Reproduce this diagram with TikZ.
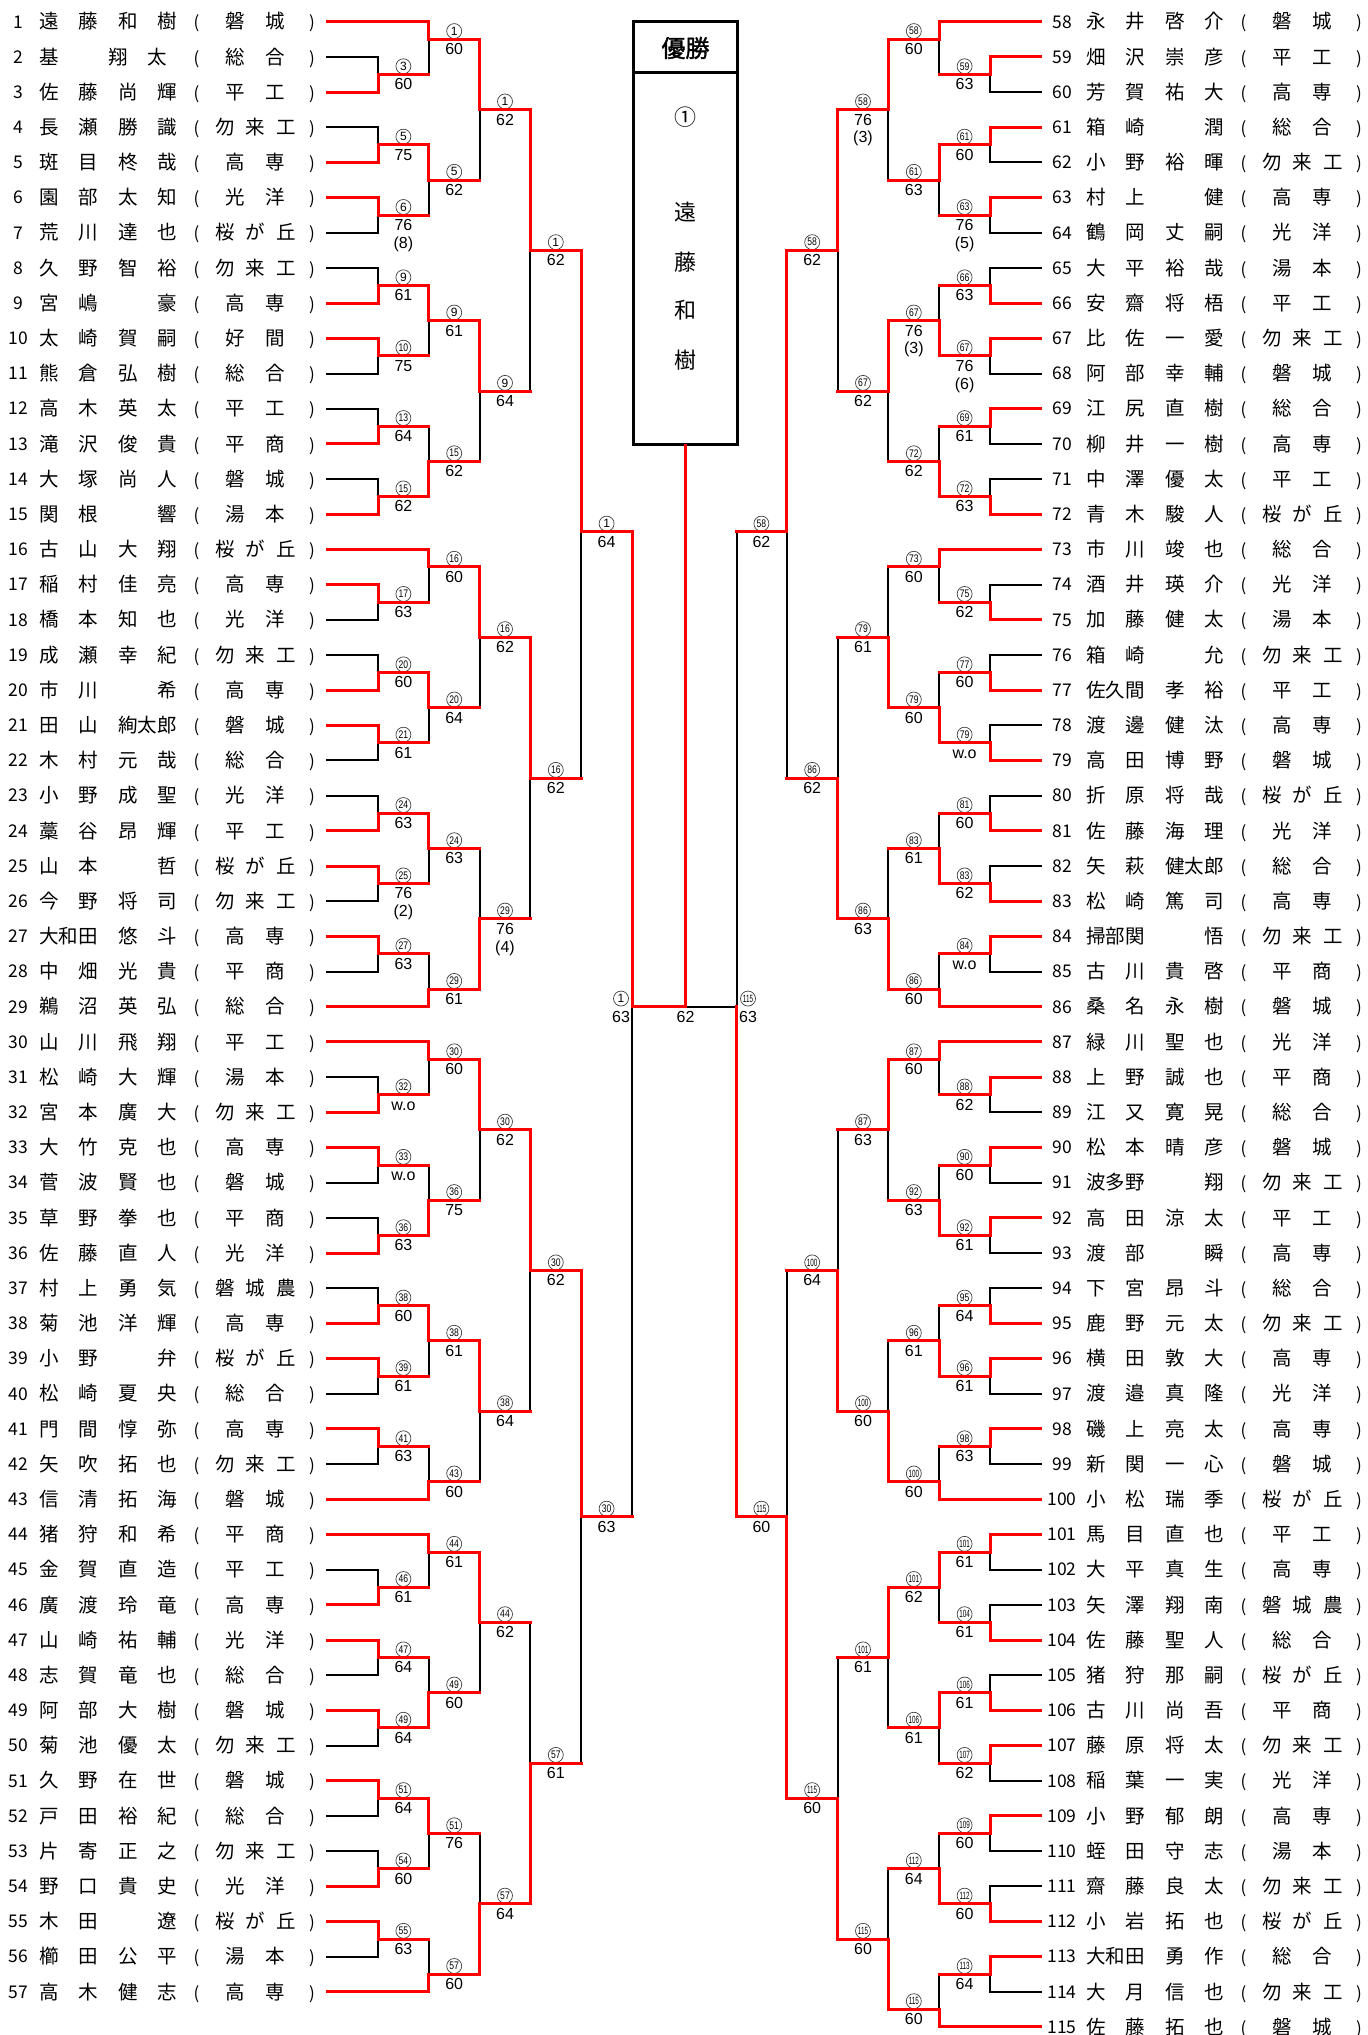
\documentclass[tikz,border=0pt]{standalone}
\usepackage{fontspec}
\usepackage{graphicx}
\setmainfont{Liberation Sans}
\newfontfamily\jp{Noto Sans CJK JP}
\newfontfamily\jpb[FakeBold=1.5]{Noto Sans CJK JP}
\usetikzlibrary{calc}

\tikzset{
  win/.style={draw=red, line width=3pt, line cap=rect},
  lose/.style={draw=black, line width=2pt, line cap=rect},
  nm/.style={anchor=base west, inner sep=0pt, font=\jp\fontsize{19.5}{20}\selectfont},
  cl/.style={anchor=base, inner sep=0pt, font=\jp\fontsize{19.5}{20}\selectfont},
  par/.style={anchor=base, inner sep=0pt, font=\jp\fontsize{17}{18}\selectfont},
  pnum/.style={anchor=base, inner sep=0pt, font=\jp\fontsize{17.5}{18}\selectfont},
  score/.style={inner sep=0pt, text height=11.5pt, text depth=0pt, font=\fontsize{16}{16}\selectfont},
  cnode/.style={circle, draw=black!75, line width=0.7pt, minimum size=15pt, inner sep=0pt},
  boxt/.style={inner sep=0pt, font=\jp\fontsize{22}{22}\selectfont}
}

\newcommand\cnum[1]{\ifnum#1<10 {\fontsize{12}{12}\selectfont #1}\else\ifnum#1<100 \scalebox{0.78}[1]{\fontsize{11}{11}\selectfont #1}\else\scalebox{0.6}[1]{\fontsize{10.5}{11}\selectfont #1}\fi\fi}

% label: name, x, y(line), number, score, extra
\newcommand\mkLbl[6]{%
  \node[cnode] (#1c) at (#2,{#3-8.2}) {\cnum{#4}};
  \node[score] (#1s) at (#2,{#3+9.6}) {#5};
  \if\relax\detokenize{#6}\relax\else\node[score] (#1e) at (#2,{#3+27.5}) {(#6)};\fi}

% left match: col, winner, k, score, extra
\newcommand\mkML[5]{%
  \pgfmathsetmacro\mx{327.2+50.8*#1}\pgfmathsetmacro\my{21.7+17.59*#3}%
  \coordinate (L#1w#2) at (\mx,\my);
  \pgfmathsetmacro\lx{\mx+25.4}%
  \mkLbl{L#1w#2}{\lx}{\my}{#2}{#4}{#5}}
% right match
\newcommand\mkMR[5]{%
  \pgfmathsetmacro\mx{1040.8-50.8*#1}\pgfmathsetmacro\my{21.7+17.59*#3}%
  \coordinate (R#1w#2) at (\mx,\my);
  \pgfmathsetmacro\lx{\mx-25.4}%
  \mkLbl{R#1w#2}{\lx}{\my}{#2}{#4}{#5}}

% left player: num, 4 name slots, 3 club chars
\newcommand\mkPL[8]{%
  \pgfmathsetmacro\yy{21.7+35.18*(#1-1)}\pgfmathsetmacro\yb{\yy+7.2}%
  \coordinate (PL#1) at (327.2,\yy);
  \node[pnum] (nL#1) at (18.5,{\yy+6.3}) {#1};
  \node[nm] (aL#1) at (39.25,\yb) {#2};
  \node[nm] (bL#1) at (78.55,\yb) {#3};
  \node[nm] (cL#1) at (117.85,\yb) {#4};
  \node[nm] (dL#1) at (157.15,\yb) {#5};
  \node[par] (oL#1) at (196.5,\yb) {(};
  \node[par] (eL#1) at (312,\yb) {)};
  \if\relax\detokenize{#8}\relax
    \node[cl] (fL#1) at (235,\yb) {#6};\node[cl] (gL#1) at (275,\yb) {#7};
  \else
    \node[cl] (fL#1) at (225,\yb) {#6};\node[cl] (gL#1) at (255.5,\yb) {#7};\node[cl] (hL#1) at (286,\yb) {#8};
  \fi}
% right player
\newcommand\mkPR[8]{%
  \pgfmathsetmacro\yy{21.7+35.18*(#1-58)}\pgfmathsetmacro\yb{\yy+7.2}%
  \coordinate (PR#1) at (1040.8,\yy);
  \node[pnum] (nR#1) at (1062,{\yy+6.3}) {#1};
  \node[nm] (aR#1) at (1086.25,\yb) {#2};
  \node[nm] (bR#1) at (1125.55,\yb) {#3};
  \node[nm] (cR#1) at (1164.85,\yb) {#4};
  \node[nm] (dR#1) at (1204.15,\yb) {#5};
  \node[par] (oR#1) at (1243.5,\yb) {(};
  \node[par] (eR#1) at (1359,\yb) {)};
  \if\relax\detokenize{#8}\relax
    \node[cl] (fR#1) at (1282,\yb) {#6};\node[cl] (gR#1) at (1322,\yb) {#7};
  \else
    \node[cl] (fR#1) at (1272,\yb) {#6};\node[cl] (gR#1) at (1302.5,\yb) {#7};\node[cl] (hR#1) at (1333,\yb) {#8};
  \fi}

\begin{document}
\begin{tikzpicture}[x=1pt,y=-1pt]
\fill[white] (0,0) rectangle (1368,2035);
\useasboundingbox (0,0) rectangle (1368,2035);

% ---------- left players ----------
\mkPL{1}{遠}{藤}{和}{樹}{磐}{城}{}
\mkPL{2}{基}{}{}{}{総}{合}{}
\node[nm] (bL2x) at (107.95,64.08) {翔};
\node[nm] (cL2x) at (146.95,64.08) {太};
\mkPL{3}{佐}{藤}{尚}{輝}{平}{工}{}
\mkPL{4}{長}{瀬}{勝}{識}{勿}{来}{工}
\mkPL{5}{斑}{目}{柊}{哉}{高}{専}{}
\mkPL{6}{園}{部}{太}{知}{光}{洋}{}
\mkPL{7}{荒}{川}{達}{也}{桜}{が}{丘}
\mkPL{8}{久}{野}{智}{裕}{勿}{来}{工}
\mkPL{9}{宮}{嶋}{}{豪}{高}{専}{}
\mkPL{10}{太}{崎}{賀}{嗣}{好}{間}{}
\mkPL{11}{熊}{倉}{弘}{樹}{総}{合}{}
\mkPL{12}{高}{木}{英}{太}{平}{工}{}
\mkPL{13}{滝}{沢}{俊}{貴}{平}{商}{}
\mkPL{14}{大}{塚}{尚}{人}{磐}{城}{}
\mkPL{15}{関}{根}{}{響}{湯}{本}{}
\mkPL{16}{古}{山}{大}{翔}{桜}{が}{丘}
\mkPL{17}{稲}{村}{佳}{亮}{高}{専}{}
\mkPL{18}{橋}{本}{知}{也}{光}{洋}{}
\mkPL{19}{成}{瀬}{幸}{紀}{勿}{来}{工}
\mkPL{20}{市}{川}{}{希}{高}{専}{}
\mkPL{21}{田}{山}{絢太郎}{}{磐}{城}{}
\mkPL{22}{木}{村}{元}{哉}{総}{合}{}
\mkPL{23}{小}{野}{成}{聖}{光}{洋}{}
\mkPL{24}{藁}{谷}{昂}{輝}{平}{工}{}
\mkPL{25}{山}{本}{}{哲}{桜}{が}{丘}
\mkPL{26}{今}{野}{将}{司}{勿}{来}{工}
\mkPL{27}{大和田}{}{悠}{斗}{高}{専}{}
\mkPL{28}{中}{畑}{光}{貴}{平}{商}{}
\mkPL{29}{鵜}{沼}{英}{弘}{総}{合}{}
\mkPL{30}{山}{川}{飛}{翔}{平}{工}{}
\mkPL{31}{松}{崎}{大}{輝}{湯}{本}{}
\mkPL{32}{宮}{本}{廣}{大}{勿}{来}{工}
\mkPL{33}{大}{竹}{克}{也}{高}{専}{}
\mkPL{34}{菅}{波}{賢}{也}{磐}{城}{}
\mkPL{35}{草}{野}{拳}{也}{平}{商}{}
\mkPL{36}{佐}{藤}{直}{人}{光}{洋}{}
\mkPL{37}{村}{上}{勇}{気}{磐}{城}{農}
\mkPL{38}{菊}{池}{洋}{輝}{高}{専}{}
\mkPL{39}{小}{野}{}{弁}{桜}{が}{丘}
\mkPL{40}{松}{崎}{夏}{央}{総}{合}{}
\mkPL{41}{門}{間}{惇}{弥}{高}{専}{}
\mkPL{42}{矢}{吹}{拓}{也}{勿}{来}{工}
\mkPL{43}{信}{清}{拓}{海}{磐}{城}{}
\mkPL{44}{猪}{狩}{和}{希}{平}{商}{}
\mkPL{45}{金}{賀}{直}{造}{平}{工}{}
\mkPL{46}{廣}{渡}{玲}{竜}{高}{専}{}
\mkPL{47}{山}{崎}{祐}{輔}{光}{洋}{}
\mkPL{48}{志}{賀}{竜}{也}{総}{合}{}
\mkPL{49}{阿}{部}{大}{樹}{磐}{城}{}
\mkPL{50}{菊}{池}{優}{太}{勿}{来}{工}
\mkPL{51}{久}{野}{在}{世}{磐}{城}{}
\mkPL{52}{戸}{田}{裕}{紀}{総}{合}{}
\mkPL{53}{片}{寄}{正}{之}{勿}{来}{工}
\mkPL{54}{野}{口}{貴}{史}{光}{洋}{}
\mkPL{55}{木}{田}{}{遼}{桜}{が}{丘}
\mkPL{56}{櫛}{田}{公}{平}{湯}{本}{}
\mkPL{57}{高}{木}{健}{志}{高}{専}{}

% ---------- right players ----------
\mkPR{58}{永}{井}{啓}{介}{磐}{城}{}
\mkPR{59}{畑}{沢}{崇}{彦}{平}{工}{}
\mkPR{60}{芳}{賀}{祐}{大}{高}{専}{}
\mkPR{61}{箱}{崎}{}{潤}{総}{合}{}
\mkPR{62}{小}{野}{裕}{暉}{勿}{来}{工}
\mkPR{63}{村}{上}{}{健}{高}{専}{}
\mkPR{64}{鶴}{岡}{丈}{嗣}{光}{洋}{}
\mkPR{65}{大}{平}{裕}{哉}{湯}{本}{}
\mkPR{66}{安}{齋}{将}{梧}{平}{工}{}
\mkPR{67}{比}{佐}{一}{愛}{勿}{来}{工}
\mkPR{68}{阿}{部}{幸}{輔}{磐}{城}{}
\mkPR{69}{江}{尻}{直}{樹}{総}{合}{}
\mkPR{70}{柳}{井}{一}{樹}{高}{専}{}
\mkPR{71}{中}{澤}{優}{太}{平}{工}{}
\mkPR{72}{青}{木}{駿}{人}{桜}{が}{丘}
\mkPR{73}{市}{川}{竣}{也}{総}{合}{}
\mkPR{74}{酒}{井}{瑛}{介}{光}{洋}{}
\mkPR{75}{加}{藤}{健}{太}{湯}{本}{}
\mkPR{76}{箱}{崎}{}{允}{勿}{来}{工}
\mkPR{77}{佐久間}{}{孝}{裕}{平}{工}{}
\mkPR{78}{渡}{邊}{健}{汰}{高}{専}{}
\mkPR{79}{高}{田}{博}{野}{磐}{城}{}
\mkPR{80}{折}{原}{将}{哉}{桜}{が}{丘}
\mkPR{81}{佐}{藤}{海}{理}{光}{洋}{}
\mkPR{82}{矢}{萩}{健太郎}{}{総}{合}{}
\mkPR{83}{松}{崎}{篤}{司}{高}{専}{}
\mkPR{84}{掃部関}{}{}{悟}{勿}{来}{工}
\mkPR{85}{古}{川}{貴}{啓}{平}{商}{}
\mkPR{86}{桑}{名}{永}{樹}{磐}{城}{}
\mkPR{87}{緑}{川}{聖}{也}{光}{洋}{}
\mkPR{88}{上}{野}{誠}{也}{平}{商}{}
\mkPR{89}{江}{又}{寛}{晃}{総}{合}{}
\mkPR{90}{松}{本}{晴}{彦}{磐}{城}{}
\mkPR{91}{波多野}{}{}{翔}{勿}{来}{工}
\mkPR{92}{高}{田}{涼}{太}{平}{工}{}
\mkPR{93}{渡}{部}{}{瞬}{高}{専}{}
\mkPR{94}{下}{宮}{昂}{斗}{総}{合}{}
\mkPR{95}{鹿}{野}{元}{太}{勿}{来}{工}
\mkPR{96}{横}{田}{敦}{大}{高}{専}{}
\mkPR{97}{渡}{邉}{真}{隆}{光}{洋}{}
\mkPR{98}{磯}{上}{亮}{太}{高}{専}{}
\mkPR{99}{新}{関}{一}{心}{磐}{城}{}
\mkPR{100}{小}{松}{瑞}{季}{桜}{が}{丘}
\mkPR{101}{馬}{目}{直}{也}{平}{工}{}
\mkPR{102}{大}{平}{真}{生}{高}{専}{}
\mkPR{103}{矢}{澤}{翔}{南}{磐}{城}{農}
\mkPR{104}{佐}{藤}{聖}{人}{総}{合}{}
\mkPR{105}{猪}{狩}{那}{嗣}{桜}{が}{丘}
\mkPR{106}{古}{川}{尚}{吾}{平}{商}{}
\mkPR{107}{藤}{原}{将}{太}{勿}{来}{工}
\mkPR{108}{稲}{葉}{一}{実}{光}{洋}{}
\mkPR{109}{小}{野}{郁}{朗}{高}{専}{}
\mkPR{110}{蛭}{田}{守}{志}{湯}{本}{}
\mkPR{111}{齋}{藤}{良}{太}{勿}{来}{工}
\mkPR{112}{小}{岩}{拓}{也}{桜}{が}{丘}
\mkPR{113}{大和田}{}{勇}{作}{総}{合}{}
\mkPR{114}{大}{月}{信}{也}{勿}{来}{工}
\mkPR{115}{佐}{藤}{拓}{也}{磐}{城}{}

% ---------- left matches ----------
\mkML{1}{3}{3}{60}{}
\mkML{1}{5}{7}{75}{}
\mkML{1}{6}{11}{76}{8}
\mkML{1}{9}{15}{61}{}
\mkML{1}{10}{19}{75}{}
\mkML{1}{13}{23}{64}{}
\mkML{1}{15}{27}{62}{}
\mkML{1}{17}{33}{63}{}
\mkML{1}{20}{37}{60}{}
\mkML{1}{21}{41}{61}{}
\mkML{1}{24}{45}{63}{}
\mkML{1}{25}{49}{76}{2}
\mkML{1}{27}{53}{63}{}
\mkML{1}{32}{61}{w.o}{}
\mkML{1}{33}{65}{w.o}{}
\mkML{1}{36}{69}{63}{}
\mkML{1}{38}{73}{60}{}
\mkML{1}{39}{77}{61}{}
\mkML{1}{41}{81}{63}{}
\mkML{1}{46}{89}{61}{}
\mkML{1}{47}{93}{64}{}
\mkML{1}{49}{97}{64}{}
\mkML{1}{51}{101}{64}{}
\mkML{1}{54}{105}{60}{}
\mkML{1}{55}{109}{63}{}
\mkML{2}{1}{1}{60}{}
\mkML{2}{5}{9}{62}{}
\mkML{2}{9}{17}{61}{}
\mkML{2}{15}{25}{62}{}
\mkML{2}{16}{31}{60}{}
\mkML{2}{20}{39}{64}{}
\mkML{2}{24}{47}{63}{}
\mkML{2}{29}{55}{61}{}
\mkML{2}{30}{59}{60}{}
\mkML{2}{36}{67}{75}{}
\mkML{2}{38}{75}{61}{}
\mkML{2}{43}{83}{60}{}
\mkML{2}{44}{87}{61}{}
\mkML{2}{49}{95}{60}{}
\mkML{2}{51}{103}{76}{}
\mkML{2}{57}{111}{60}{}
\mkML{3}{1}{5}{62}{}
\mkML{3}{9}{21}{64}{}
\mkML{3}{16}{35}{62}{}
\mkML{3}{29}{51}{76}{4}
\mkML{3}{30}{63}{62}{}
\mkML{3}{38}{79}{64}{}
\mkML{3}{44}{91}{62}{}
\mkML{3}{57}{107}{64}{}
\mkML{4}{1}{13}{62}{}
\mkML{4}{16}{43}{62}{}
\mkML{4}{30}{71}{62}{}
\mkML{4}{57}{99}{61}{}
\mkML{5}{1}{29}{64}{}
\mkML{5}{30}{85}{63}{}
\pgfmathsetmacro\yf{21.7+17.59*56}
\coordinate (L6w1) at (632,\yf);
\mkLbl{L6w1}{621}{\yf}{1}{63}{}

% ---------- right matches ----------
\mkMR{1}{59}{3}{63}{}
\mkMR{1}{61}{7}{60}{}
\mkMR{1}{63}{11}{76}{5}
\mkMR{1}{66}{15}{63}{}
\mkMR{1}{67}{19}{76}{6}
\mkMR{1}{69}{23}{61}{}
\mkMR{1}{72}{27}{63}{}
\mkMR{1}{75}{33}{62}{}
\mkMR{1}{77}{37}{60}{}
\mkMR{1}{79}{41}{w.o}{}
\mkMR{1}{81}{45}{60}{}
\mkMR{1}{83}{49}{62}{}
\mkMR{1}{84}{53}{w.o}{}
\mkMR{1}{88}{61}{62}{}
\mkMR{1}{90}{65}{60}{}
\mkMR{1}{92}{69}{61}{}
\mkMR{1}{95}{73}{64}{}
\mkMR{1}{96}{77}{61}{}
\mkMR{1}{98}{81}{63}{}
\mkMR{1}{101}{87}{61}{}
\mkMR{1}{104}{91}{61}{}
\mkMR{1}{106}{95}{61}{}
\mkMR{1}{107}{99}{62}{}
\mkMR{1}{109}{103}{60}{}
\mkMR{1}{112}{107}{60}{}
\mkMR{1}{113}{111}{64}{}
\mkMR{2}{58}{1}{60}{}
\mkMR{2}{61}{9}{63}{}
\mkMR{2}{67}{17}{76}{3}
\mkMR{2}{72}{25}{62}{}
\mkMR{2}{73}{31}{60}{}
\mkMR{2}{79}{39}{60}{}
\mkMR{2}{83}{47}{61}{}
\mkMR{2}{86}{55}{60}{}
\mkMR{2}{87}{59}{60}{}
\mkMR{2}{92}{67}{63}{}
\mkMR{2}{96}{75}{61}{}
\mkMR{2}{100}{83}{60}{}
\mkMR{2}{101}{89}{62}{}
\mkMR{2}{106}{97}{61}{}
\mkMR{2}{112}{105}{64}{}
\mkMR{2}{115}{113}{60}{}
\mkMR{3}{58}{5}{76}{3}
\mkMR{3}{67}{21}{62}{}
\mkMR{3}{79}{35}{61}{}
\mkMR{3}{86}{51}{63}{}
\mkMR{3}{87}{63}{63}{}
\mkMR{3}{100}{79}{60}{}
\mkMR{3}{101}{93}{61}{}
\mkMR{3}{115}{109}{60}{}
\mkMR{4}{58}{13}{62}{}
\mkMR{4}{86}{43}{62}{}
\mkMR{4}{100}{71}{64}{}
\mkMR{4}{115}{101}{60}{}
\mkMR{5}{58}{29}{62}{}
\mkMR{5}{115}{85}{60}{}
\coordinate (R6w115) at (736.5,\yf);
\mkLbl{R6w115}{748}{\yf}{115}{63}{}

% ---------- champion box ----------
\node[draw, line width=3pt, minimum width=104pt, minimum height=423pt, inner sep=0pt] (box) at (685.5,232.5) {};
\draw[line width=3pt] ([yshift=-53pt]box.north west) -- ([yshift=-53pt]box.north east);
\node[inner sep=0pt, font=\jpb\fontsize{24}{24}\selectfont] (ttl) at (685.5,48) {優勝};
\node[boxt] (w0) at (685.5,117) {①};
\node[boxt] (w1) at (685.5,212) {遠};
\node[boxt] (w2) at (685.5,262) {藤};
\node[boxt] (w3) at (685.5,310) {和};
\node[boxt] (w4) at (685.5,360) {樹};
\coordinate (F) at (685.5,\yf);
\node[score] (fsc) at (685.5,{\yf+9.6}) {62};

% ---------- connectors ----------
\def\PlayLose{PL2/L1w3,PL4/L1w5,PL7/L1w6,PL8/L1w9,PL11/L1w10,PL12/L1w13,PL14/L1w15,PL18/L1w17,PL19/L1w20,PL22/L1w21,PL23/L1w24,PL26/L1w25,PL28/L1w27,PL31/L1w32,PL34/L1w33,PL35/L1w36,PL37/L1w38,PL40/L1w39,PL42/L1w41,PL45/L1w46,PL48/L1w47,PL50/L1w49,PL52/L1w51,PL53/L1w54,PL56/L1w55,
PR60/R1w59,PR62/R1w61,PR64/R1w63,PR65/R1w66,PR68/R1w67,PR70/R1w69,PR71/R1w72,PR74/R1w75,PR76/R1w77,PR78/R1w79,PR80/R1w81,PR82/R1w83,PR85/R1w84,PR89/R1w88,PR91/R1w90,PR93/R1w92,PR94/R1w95,PR97/R1w96,PR99/R1w98,PR102/R1w101,PR103/R1w104,PR105/R1w106,PR108/R1w107,PR110/R1w109,PR111/R1w112,PR114/R1w113}
\def\MatchLose{L1w3/L2w1,L1w6/L2w5,L1w10/L2w9,L1w13/L2w15,L1w17/L2w16,L1w21/L2w20,L1w25/L2w24,L1w27/L2w29,L1w32/L2w30,L1w33/L2w36,L1w39/L2w38,L1w41/L2w43,L1w46/L2w44,L1w47/L2w49,L1w54/L2w51,L1w55/L2w57,L2w5/L3w1,L2w15/L3w9,L2w20/L3w16,L2w24/L3w29,L2w36/L3w30,L2w43/L3w38,L2w49/L3w44,L2w51/L3w57,L3w9/L4w1,L3w29/L4w16,L3w38/L4w30,L3w44/L4w57,L4w16/L5w1,L4w57/L5w30,L5w30/L6w1,
R1w59/R2w58,R1w63/R2w61,R1w66/R2w67,R1w69/R2w72,R1w75/R2w73,R1w77/R2w79,R1w81/R2w83,R1w84/R2w86,R1w88/R2w87,R1w90/R2w92,R1w95/R2w96,R1w98/R2w100,R1w104/R2w101,R1w107/R2w106,R1w109/R2w112,R1w113/R2w115,R2w61/R3w58,R2w72/R3w67,R2w73/R3w79,R2w83/R3w86,R2w92/R3w87,R2w96/R3w100,R2w106/R3w101,R2w112/R3w115,R3w67/R4w58,R3w79/R4w86,R3w87/R4w100,R3w101/R4w115,R4w86/R5w58,R4w100/R5w115,R5w58/R6w115}
\def\Winners{PL1/L2w1,PL3/L1w3,PL5/L1w5,PL6/L1w6,PL9/L1w9,PL10/L1w10,PL13/L1w13,PL15/L1w15,PL16/L2w16,PL17/L1w17,PL20/L1w20,PL21/L1w21,PL24/L1w24,PL25/L1w25,PL27/L1w27,PL29/L2w29,PL30/L2w30,PL32/L1w32,PL33/L1w33,PL36/L1w36,PL38/L1w38,PL39/L1w39,PL41/L1w41,PL43/L2w43,PL44/L2w44,PL46/L1w46,PL47/L1w47,PL49/L1w49,PL51/L1w51,PL54/L1w54,PL55/L1w55,PL57/L2w57,
L1w5/L2w5,L1w9/L2w9,L1w15/L2w15,L1w20/L2w20,L1w24/L2w24,L1w36/L2w36,L1w38/L2w38,L1w49/L2w49,L1w51/L2w51,L2w1/L3w1,L2w9/L3w9,L2w16/L3w16,L2w29/L3w29,L2w30/L3w30,L2w38/L3w38,L2w44/L3w44,L2w57/L3w57,L3w1/L4w1,L3w16/L4w16,L3w30/L4w30,L3w57/L4w57,L4w1/L5w1,L4w30/L5w30,L5w1/L6w1,
PR58/R2w58,PR59/R1w59,PR61/R1w61,PR63/R1w63,PR66/R1w66,PR67/R1w67,PR69/R1w69,PR72/R1w72,PR73/R2w73,PR75/R1w75,PR77/R1w77,PR79/R1w79,PR81/R1w81,PR83/R1w83,PR84/R1w84,PR86/R2w86,PR87/R2w87,PR88/R1w88,PR90/R1w90,PR92/R1w92,PR95/R1w95,PR96/R1w96,PR98/R1w98,PR100/R2w100,PR101/R1w101,PR104/R1w104,PR106/R1w106,PR107/R1w107,PR109/R1w109,PR112/R1w112,PR113/R1w113,PR115/R2w115,
R1w61/R2w61,R1w67/R2w67,R1w72/R2w72,R1w79/R2w79,R1w83/R2w83,R1w92/R2w92,R1w96/R2w96,R1w101/R2w101,R1w106/R2w106,R1w112/R2w112,R2w58/R3w58,R2w67/R3w67,R2w79/R3w79,R2w86/R3w86,R2w87/R3w87,R2w100/R3w100,R2w101/R3w101,R2w115/R3w115,R3w58/R4w58,R3w86/R4w86,R3w100/R4w100,R3w115/R4w115,R4w58/R5w58,R4w115/R5w115,R5w115/R6w115}

\foreach \a/\b in \PlayLose {\draw[lose] (\a) -| (\b);}
\foreach \a/\b in \MatchLose {\draw[lose] (\a -| \b) -- (\b);}
\draw[lose] (R6w115) -- (F);
\foreach \a/\b in \MatchLose {\draw[win] (\a) -- (\a -| \b);}
\foreach \a/\b in \Winners {\draw[win] (\a) -| (\b);}
\draw[win] (L6w1) -- (F);
\draw[win] (F) -- (box.south);
\end{tikzpicture}
\end{document}
